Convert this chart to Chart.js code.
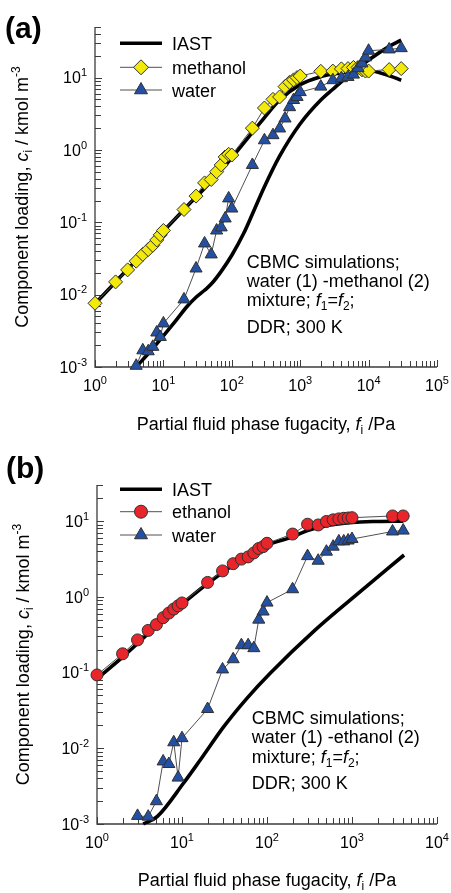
<!DOCTYPE html>
<html><head><meta charset="utf-8">
<script src="https://cdn.jsdelivr.net/npm/chart.js@4.4.0/dist/chart.umd.min.js"></script>
<style>
html,body{margin:0;padding:0;background:#fff;}
#wrap{position:relative;width:451px;height:893px;overflow:hidden;}
canvas{position:absolute;left:0;}
</style></head><body>
<div id="wrap">
<canvas id="ca" width="451" height="446" style="top:0"></canvas>
<canvas id="cb" width="451" height="447" style="top:446px"></canvas>
</div>
<script>
// ---------- Panel (a): water (1) - methanol (2) ----------
const fA_methanol = [1,2,3,4,5,6,7,8,9,10,20,30,40,50,60,70,80,90,100,200,300,400,500,600,700,800,900,1000,2000,3000,4000,5000,6000,7000,8000,9000,10000,20000,30000];
const cA_methanol = [0.0076,0.015,0.022,0.029,0.036,0.042,0.048,0.057,0.067,0.077,0.15,0.23,0.35,0.39,0.5,0.62,0.8,0.87,0.85,2.0,3.8,5.0,5.4,7.5,8.6,9.3,10,10.5,12.2,12.3,13.2,13.3,13.8,13.8,12.8,12.3,12.3,12.9,13.3];
const fA_water = [4,5,6,7,8,9,10,20,30,40,50,60,70,80,90,100,200,300,400,500,600,700,800,900,1000,2000,3000,4000,5000,6000,7000,8000,9000,10000,20000,30000];
const cA_water = [0.00104,0.0017,0.00165,0.0019,0.0030,0.0026,0.004,0.0086,0.023,0.051,0.036,0.077,0.085,0.113,0.214,0.155,0.62,1.36,1.6,1.98,2.72,3.9,4.9,5.4,6.3,7.5,9.2,9.8,10.2,11,13.5,15.7,19,23.5,24.5,25.5];
const fA_iastMethanol = [1,2,5,10,20,50,100,200,300,500,1000,2000,3000,5000,10000,20000,30000];
const cA_iastMethanol = [0.0075,0.015,0.037,0.075,0.15,0.37,0.78,1.75,2.8,4.9,8.0,10.3,11.2,11.9,12.4,10.6,9.2];
const fA_iastWater = [4,7,10,15,22,30,40,50,70,100,150,200,300,500,1000,2000,3000,5000,10000,20000,30000];
const cA_iastWater = [0.001,0.0018,0.0027,0.0043,0.0068,0.0092,0.0115,0.014,0.021,0.035,0.071,0.13,0.31,0.82,2.3,4.9,6.9,10.5,17.5,27,33];
const xRangeA = [1, 1e5];
const yRangeA = [1e-3, 50];

// ---------- Panel (b): water (1) - ethanol (2) ----------
const fB_ethanol = [1,2,3,4,5,6,7,8,9,10,20,30,40,50,60,70,80,90,100,200,300,400,500,600,700,800,900,1000,3000,4000];
const cB_ethanol = [0.093,0.177,0.27,0.36,0.43,0.53,0.61,0.69,0.76,0.83,1.55,2.2,2.74,3.15,3.37,3.8,4.35,4.6,5.1,6.75,9.1,8.9,9.9,10.4,10.7,10.9,11.0,11.1,11.7,11.7];
const fB_water = [3,4,5,6,7,8,9,10,20,30,40,50,60,70,80,90,100,200,300,400,500,600,700,800,900,1000,3000,4000];
const cB_water = [0.00128,0.00125,0.002,0.0067,0.0062,0.012,0.0041,0.0136,0.033,0.11,0.15,0.23,0.23,0.21,0.5,0.64,0.84,1.26,3.45,3.0,3.95,4.6,5.4,5.4,5.55,5.8,7.3,7.5];
const fB_iastEthanol = [1,2,5,10,20,50,100,200,300,500,1000,2000,4000];
const cB_iastEthanol = [0.083,0.16,0.41,0.8,1.5,3.1,4.8,6.2,7.5,8.7,9.6,9.9,10.0];
const fB_iastWater = [3.5,5.1,10.4,16.4,31,58,109,370,1250,4100];
const cB_iastWater = [0.001,0.00125,0.00345,0.007,0.0193,0.0457,0.098,0.366,1.17,3.57];
const xRangeB = [1, 1e4];
const yRangeB = [1e-3, 30];

// ---------- styling ----------
const FF = '"Liberation Sans", Arial, Helvetica, sans-serif';
const AXIS = '#3c3c3c';
const EDGE = '#303030';
const THIN = '#505050';
const YELLOW = '#f3ea0c';
const BLUE = '#2450a3';
const RED = '#e8252a';

function pts(xs, ys){ return xs.map((x,i)=>({x:x, y:ys[i]})); }

function iastSet(xs, ys, order){
  return {label:'IAST', data:pts(xs,ys), borderColor:'#000', borderWidth:3.6, pointRadius:0,
    cubicInterpolationMode:'monotone', fill:false, order:order, clip:false};
}
function simSet(label, xs, ys, style, color, r, order){
  return {label:label, data:pts(xs,ys), borderColor:THIN, borderWidth:1, tension:0,
    pointStyle:style, pointRadius:r, pointBackgroundColor:color, pointBorderColor:EDGE,
    pointBorderWidth:1, fill:false, order:order, clip:false};
}

function runs(ctx, parts, x, y, align){
  let w = 0; const m = [];
  for (const p of parts){ ctx.font = (p.it?'italic ':'') + (p.b?'bold ':'') + p.s + 'px ' + FF; const ww = ctx.measureText(p.t).width; m.push(ww); w += ww; }
  let cx = align==='center' ? x - w/2 : (align==='right' ? x - w : x);
  parts.forEach((p,i)=>{ ctx.font = (p.it?'italic ':'') + (p.b?'bold ':'') + p.s + 'px ' + FF; ctx.fillText(p.t, cx, y + (p.dy||0)); cx += m[i]; });
}

function logVals(min, max){
  const out = [];
  for (let d = Math.floor(Math.log10(min)); d <= Math.ceil(Math.log10(max)); d++){
    for (let k = 1; k <= 9; k++){
      const v = Number((k*Math.pow(10,d)).toPrecision(6));
      if (v >= min*(1-1e-9) && v <= max*(1+1e-9)) out.push([v, k===1, d]);
    }
  }
  return out;
}

function makeDeco(cfg){
  return {
    id:'deco',
    beforeDatasetsDraw(chart){
      const ctx = chart.ctx, a = chart.chartArea, xs = chart.scales.x, ys = chart.scales.y;
      ctx.save();
      ctx.strokeStyle = AXIS; ctx.lineWidth = 1.3;
      ctx.beginPath(); ctx.moveTo(a.left, a.top); ctx.lineTo(a.left, a.bottom); ctx.lineTo(a.right, a.bottom); ctx.stroke();
      ctx.lineWidth = 1;
      ctx.beginPath();
      logVals(xs.min, xs.max).forEach(([v,major])=>{ const p = Math.round(xs.getPixelForValue(v))+0.5; ctx.moveTo(p, a.bottom); ctx.lineTo(p, a.bottom-(major?7:6)); });
      logVals(ys.min, ys.max).forEach(([v,major])=>{ const p = Math.round(ys.getPixelForValue(v))+0.5; ctx.moveTo(a.left, p); ctx.lineTo(a.left+(major?7:6), p); });
      ctx.stroke();
      ctx.restore();
    },
    afterDraw(chart){
      const ctx = chart.ctx, a = chart.chartArea, xs = chart.scales.x, ys = chart.scales.y;
      ctx.save();
      ctx.fillStyle = '#000'; ctx.textAlign = 'left'; ctx.textBaseline = 'alphabetic';
      // tick labels
      for (let d = Math.ceil(Math.log10(xs.min)); d <= Math.floor(Math.log10(xs.max)); d++){
        const p = xs.getPixelForValue(Math.pow(10,d));
        runs(ctx, [{t:'10', s:16}, {t:String(d), s:11, dy:-7}], p, a.bottom + cfg.xTickDy, 'center');
      }
      for (let d = Math.ceil(Math.log10(ys.min)); d <= Math.floor(Math.log10(ys.max)); d++){
        const p = ys.getPixelForValue(Math.pow(10,d));
        runs(ctx, [{t:'10', s:16}, {t:String(d), s:11, dy:-7}], a.left - 8, p + 5.7, 'right');
      }
      // x title
      runs(ctx, [{t:'Partial fluid phase fugacity, ', s:18}, {t:'f', s:18, it:true}, {t:'i', s:12, dy:4}, {t:' /Pa', s:18}],
        (a.left + a.right)/2, cfg.xTitleY, 'center');
      // y title
      ctx.save();
      ctx.translate(cfg.yTitleX, (a.top + a.bottom)/2);
      ctx.rotate(-Math.PI/2);
      runs(ctx, [{t:'Component loading, ', s:18}, {t:'c', s:18, it:true}, {t:'i', s:12, dy:4}, {t:' / kmol m', s:18}, {t:'-3', s:12, dy:-8}], 0, 0, 'center');
      ctx.restore();
      // panel label
      runs(ctx, [{t:cfg.panel, s:30, b:true}], cfg.panelX, cfg.panelY, 'left');
      // annotation
      const ax = cfg.noteX, ay = cfg.noteY;
      runs(ctx, [{t:'CBMC simulations;', s:18}], ax, ay[0], 'left');
      runs(ctx, [{t:cfg.mixLine, s:18}], ax, ay[1], 'left');
      runs(ctx, [{t:'mixture; ', s:18}, {t:'f', s:18, it:true}, {t:'1', s:12, dy:4}, {t:'=', s:18}, {t:'f', s:18, it:true}, {t:'2', s:12, dy:4}, {t:';', s:18}], ax, ay[2], 'left');
      runs(ctx, [{t:'DDR; 300 K', s:18}], ax, ay[3], 'left');
      // legend
      const L = cfg.legend;
      const ds = chart.data.datasets;
      L.rows.forEach((row)=>{
        const y = row.y; const d = ds[row.ds];
        ctx.save();
        if (row.iast){
          ctx.strokeStyle = '#000'; ctx.lineWidth = 3.6;
          ctx.beginPath(); ctx.moveTo(L.x0, y); ctx.lineTo(L.x1, y); ctx.stroke();
        } else {
          ctx.strokeStyle = THIN; ctx.lineWidth = 1;
          ctx.beginPath(); ctx.moveTo(L.x0, y); ctx.lineTo(L.x1, y); ctx.stroke();
          ctx.fillStyle = d.pointBackgroundColor; ctx.strokeStyle = EDGE; ctx.lineWidth = 1;
          Chart.helpers.drawPoint(ctx, {pointStyle:d.pointStyle, radius:row.r, rotation:0, borderWidth:1}, (L.x0+L.x1)/2, y);
        }
        ctx.restore();
        ctx.fillStyle = '#000';
        runs(ctx, [{t:d.label, s:18}], L.tx, y + 6.5, 'left');
      });
      ctx.restore();
    }
  };
}

function makeChart(id, datasets, xr, yr, pad, cfg){
  return new Chart(document.getElementById(id), {
    type:'line',
    data:{datasets:datasets},
    options:{
      responsive:false, animation:false, devicePixelRatio:1,
      layout:{padding:pad},
      plugins:{legend:{display:false}, tooltip:{enabled:false}},
      scales:{
        x:{type:'logarithmic', min:xr[0], max:xr[1], display:false},
        y:{type:'logarithmic', min:yr[0], max:yr[1], display:false}
      }
    },
    plugins:[makeDeco(cfg)]
  });
}

makeChart('ca', [
  simSet('water', fA_water, cA_water, 'triangle', BLUE, 7, 0),
  simSet('methanol', fA_methanol, cA_methanol, 'rectRot', YELLOW, 7, 1),
  iastSet(fA_iastWater, cA_iastWater, 2),
  iastSet(fA_iastMethanol, cA_iastMethanol, 3)
], xRangeA, yRangeA, {left:95, right:14, top:27, bottom:79}, {
  xTickDy:24, xTitleY:430, yTitleX:28, panel:'(a)', panelX:5, panelY:38,
  noteX:246.7, noteY:[268.3, 287.3, 306, 332.7], mixLine:'water (1) -methanol (2)',
  legend:{x0:120, x1:162, tx:172, rows:[{ds:3, iast:true, y:43.3}, {ds:1, y:67.3, r:7.5}, {ds:0, y:90, r:7.5}]}
});

makeChart('cb', [
  simSet('water', fB_water, cB_water, 'triangle', BLUE, 7, 0),
  simSet('ethanol', fB_ethanol, cB_ethanol, 'circle', RED, 6, 1),
  iastSet(fB_iastWater, cB_iastWater, 2),
  iastSet(fB_iastEthanol, cB_iastEthanol, 3)
], xRangeB, yRangeB, {left:97, right:14, top:39, bottom:69}, {
  xTickDy:24, xTitleY:440, yTitleX:29, panel:'(b)', panelX:6, panelY:32,
  noteX:251.7, noteY:[278, 297.3, 316.7, 343.3], mixLine:'water (1) -ethanol (2)',
  legend:{x0:120, x1:162, tx:172, rows:[{ds:3, iast:true, y:43.3}, {ds:1, y:65.7, r:6.5}, {ds:0, y:89, r:7.5}]}
});
</script>
</body></html>
